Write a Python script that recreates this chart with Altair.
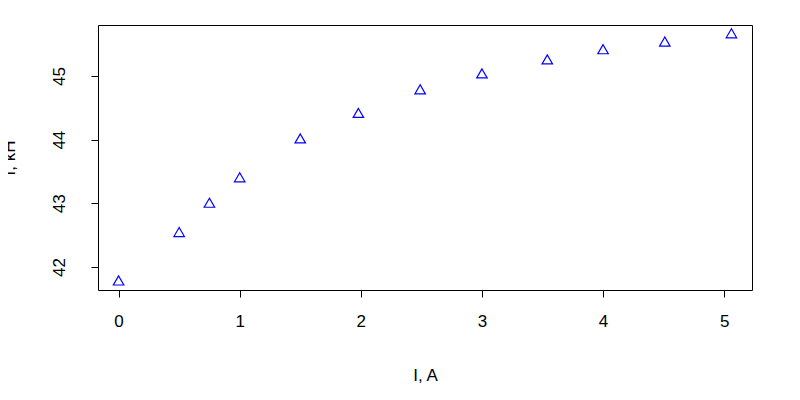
import pandas as pd
import altair as alt

current = [0.0, 0.5, 0.75, 1.0, 1.5, 1.98, 2.49, 3.0, 3.54, 4.0, 4.51, 5.06]
freq = [41.79, 42.55, 43.01, 43.41, 44.02, 44.42, 44.79, 45.04, 45.26, 45.42, 45.54, 45.67]

df = pd.DataFrame({"I": current, "f": freq})

chart = alt.Chart(df).mark_point(
    shape="triangle-up", filled=False, color="blue", size=110, strokeWidth=1.2, opacity=1
).encode(
    x=alt.X("I:Q", title="I, A", scale=alt.Scale(domain=[-0.17, 5.23], nice=False, zero=False),
            axis=alt.Axis(values=[0, 1, 2, 3, 4, 5], domain=False, grid=False, tickColor="black",
                          tickSize=7, labelFontSize=17, labelPadding=16, titleFontSize=17,
                          titleFontWeight="normal", titlePadding=38, labelColor="black",
                          titleColor="black", labelFont="Liberation Sans", titleFont="Liberation Sans")),
    y=alt.Y("f:Q", title="f, kH", scale=alt.Scale(domain=[41.64, 45.8], nice=False, zero=False),
            axis=alt.Axis(values=[42, 43, 44, 45], domain=False, grid=False, tickColor="black",
                          tickSize=7, labelFontSize=17, labelAngle=-90, labelAlign="center",
                          labelBaseline="bottom", labelPadding=23, titleFontSize=17,
                          titleFontWeight="normal", titlePadding=32, labelColor="black",
                          titleColor="black", labelFont="Liberation Sans", titleFont="Liberation Sans")),
).properties(
    width=654, height=265,
    autosize=alt.AutoSizeParams(type="none"),
    padding={"left": 90, "top": 17, "right": 40, "bottom": 100},
).configure_view(stroke="black", strokeWidth=1)

chart.save("out.html", embed_options={"renderer": "svg", "actions": False})
